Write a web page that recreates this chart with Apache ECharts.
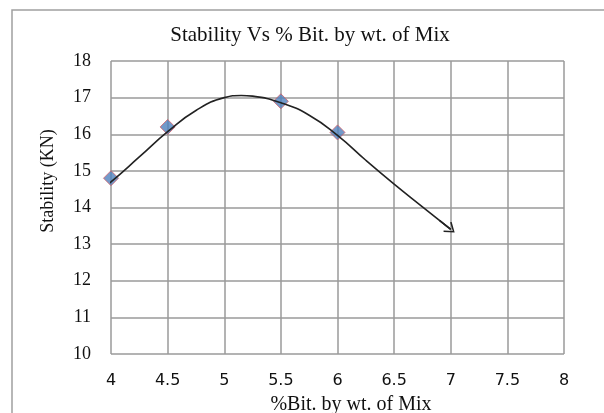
<!DOCTYPE html>
<html>
<head>
<meta charset="utf-8">
<script src="https://cdn.jsdelivr.net/npm/echarts@6/dist/echarts.min.js"></script>
<style>html,body{margin:0;padding:0;background:#fff}#c{width:604px;height:413px}</style>
</head>
<body>
<div id="c"></div>
<script>
// Measured data points (diamonds)
var pointX = [4, 4.5, 5.5, 6];
var pointY = [14.8, 16.2, 16.9, 16.05];
// Trend curve
var curveX = [3.93, 4, 4.25, 4.5, 4.75, 5, 5.15, 5.25, 5.5, 5.75, 6, 6.25, 6.5, 6.75, 7];
var curveY = [14.55, 14.7, 15.38, 16.07, 16.65, 17.0, 17.06, 17.04, 16.86, 16.52, 15.97, 15.29, 14.64, 14.02, 13.4];
var titleText = 'Stability Vs % Bit. by wt. of Mix';
var xName = '%Bit. by wt. of Mix';
var yName = 'Stability (KN)';

var chart = echarts.init(document.getElementById('c'), null, {renderer: 'canvas'});
var gridColor = '#9a9a9a';
var n = curveX.length;
chart.setOption({
  animation: false,
  backgroundColor: '#fff',
  grid: {left: 111, right: 40, top: 61, bottom: 59},
  graphic: [
    {type: 'rect', shape: {x: 12, y: 10, width: 600, height: 420}, style: {fill: 'none', stroke: '#a0a0a0', lineWidth: 1.5}, z: -1},
    {type: 'text', x: 310, y: 35, style: {text: titleText, font: '21px "Liberation Serif"', fill: '#111', textAlign: 'center', textVerticalAlign: 'middle'}},
    {type: 'text', x: 351, y: 405, style: {text: xName, font: '20px "Liberation Serif"', fill: '#111', textAlign: 'center', textVerticalAlign: 'middle'}},
    {type: 'text', x: 48, y: 181, rotation: Math.PI / 2, style: {text: yName, font: '18px "Liberation Serif"', fill: '#111', textAlign: 'center', textVerticalAlign: 'middle'}}
  ],
  xAxis: {
    type: 'value', min: 4, max: 8, interval: 0.5,
    axisLine: {show: false}, axisTick: {show: false},
    splitLine: {show: true, lineStyle: {color: gridColor, width: 1.5}},
    axisLabel: {margin: 19, fontFamily: 'DejaVu Sans', fontSize: 16, color: '#111'}
  },
  yAxis: {
    type: 'value', min: 10, max: 18, interval: 1,
    axisLine: {show: false}, axisTick: {show: false},
    splitLine: {show: true, lineStyle: {color: gridColor, width: 1.5}},
    axisLabel: {margin: 20, fontFamily: 'Liberation Serif', fontSize: 18, color: '#111'}
  },
  series: [
    {
      type: 'scatter', z: 2,
      data: pointX.map(function (x, i) { return [x, pointY[i]]; }),
      symbol: 'diamond', symbolSize: [15, 15],
      itemStyle: {color: '#4F81BD', borderColor: '#D0606A', borderWidth: 1}
    },
    {
      type: 'line', z: 3, smooth: true, showSymbol: false, symbol: 'none',
      data: curveX.map(function (x, i) { return [x, curveY[i]]; }),
      lineStyle: {color: '#222', width: 1.6},
      markLine: {
        silent: true, animation: false,
        symbol: ['none', 'path://M5,0 L10,9 L9,10 L5,2.5 L1,10 L0,9 Z'],
        symbolSize: [13, 10],
        label: {show: false},
        lineStyle: {color: '#222', width: 1.6, type: 'solid'},
        data: [[{coord: [curveX[n - 2] + 0.15, curveY[n - 2] + (curveY[n - 1] - curveY[n - 2]) * 0.6]}, {coord: [curveX[n - 1], curveY[n - 1]]}]]
      }
    }
  ]
});
</script>
</body>
</html>
